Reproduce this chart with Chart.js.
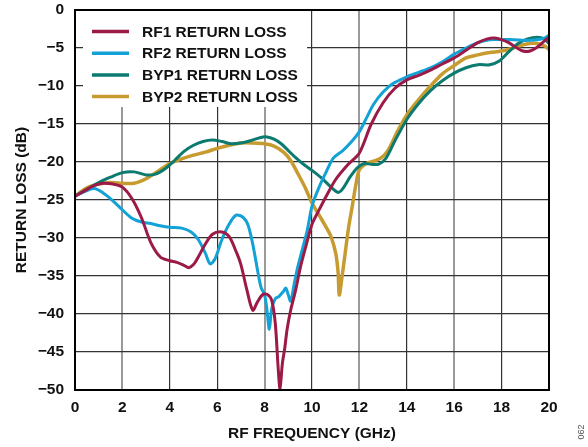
<!DOCTYPE html>
<html>
<head>
<meta charset="utf-8">
<script src="https://cdn.jsdelivr.net/npm/chart.js@4"></script>
<style>
  html, body { margin: 0; padding: 0; background: #fff; }
  canvas { display: block; }
</style>
</head>
<body>
<canvas id="rlChart" width="588" height="447"></canvas>
<script>
// frequencies (GHz) and return loss (dB)
const rf1Freq = [0, 0.4, 0.8, 1.2, 1.6, 2.0, 2.4, 2.8, 3.2, 3.6, 4.0, 4.3, 4.6, 4.8, 5.0, 5.2, 5.5, 5.8, 6.2, 6.5, 6.8, 7.0, 7.25, 7.5, 7.7, 7.9, 8.1, 8.3, 8.45, 8.57, 8.65, 8.75, 8.85, 8.95, 9.1, 9.3, 9.5, 9.75, 10.0, 10.3, 10.6, 11.0, 11.5, 12.0, 12.5, 13.0, 13.5, 14.0, 14.5, 15.0, 15.5, 16.0, 16.5, 17.0, 17.4, 17.7, 18.0, 18.3, 18.6, 18.9, 19.2, 19.5, 19.8, 20.0];
const rf1Loss = [-24.5, -23.8, -23.1, -22.8, -22.9, -23.3, -24.8, -27.3, -30.6, -32.5, -33.0, -33.2, -33.6, -33.9, -33.5, -32.5, -30.8, -29.5, -29.2, -29.8, -31.8, -33.5, -36.8, -39.5, -38.4, -37.5, -37.4, -38.2, -41.2, -47.0, -49.8, -46.5, -44.5, -42.0, -39.5, -37.0, -34.0, -31.0, -28.2, -26.3, -24.5, -22.3, -20.4, -18.8, -15.0, -12.2, -10.3, -9.2, -8.6, -7.9, -7.1, -6.3, -5.3, -4.3, -3.8, -3.7, -3.9, -4.3, -4.9, -5.4, -5.4, -4.9, -4.1, -3.6];

const rf2Freq = [0, 0.4, 0.8, 1.2, 1.6, 2.0, 2.4, 2.8, 3.2, 3.6, 4.0, 4.5, 4.9, 5.2, 5.5, 5.7, 5.9, 6.2, 6.5, 6.8, 7.1, 7.3, 7.5, 7.7, 7.85, 8.0, 8.1, 8.2, 8.3, 8.45, 8.6, 8.8, 8.9, 9.0, 9.1, 9.25, 9.4, 9.6, 9.8, 10.0, 10.3, 10.6, 10.9, 11.3, 11.7, 12.0, 12.3, 12.6, 13.0, 13.4, 14.0, 14.5, 15.0, 15.5, 16.0, 16.5, 17.0, 17.5, 18.0, 18.5, 19.0, 19.5, 19.8, 20.0];
const rf2Loss = [-24.5, -23.9, -23.5, -24.1, -25.1, -26.3, -27.4, -27.9, -28.1, -28.4, -28.6, -28.7, -29.2, -30.2, -32.0, -33.4, -32.8, -30.2, -28.2, -27.0, -27.3, -28.3, -30.8, -34.2, -36.5, -37.5, -39.5, -42.0, -39.3, -38.0, -37.7, -37.0, -36.6, -37.5, -38.3, -36.0, -33.8, -31.4, -29.0, -25.8, -23.3, -21.3, -19.5, -18.5, -17.2, -16.0, -14.2, -12.4, -10.8, -9.7, -8.8, -8.2, -7.6, -6.8, -5.8, -5.0, -4.3, -3.9, -3.9, -3.9, -4.0, -3.9, -3.7, -3.3];

const byp1Freq = [0, 0.5, 1.0, 1.5, 2.0, 2.5, 3.0, 3.4, 3.8, 4.2, 4.6, 5.0, 5.4, 5.8, 6.2, 6.6, 7.0, 7.4, 7.8, 8.1, 8.4, 8.7, 9.0, 9.3, 9.6, 10.0, 10.4, 10.8, 11.1, 11.3, 11.6, 11.9, 12.2, 12.5, 12.8, 13.1, 13.5, 14.0, 14.5, 15.0, 15.5, 16.0, 16.5, 17.0, 17.5, 17.9, 18.3, 18.7, 19.1, 19.5, 19.8, 20.0];
const byp1Loss = [-24.5, -23.6, -22.7, -22.0, -21.4, -21.3, -21.7, -21.6, -20.9, -19.8, -18.6, -17.8, -17.3, -17.1, -17.3, -17.6, -17.5, -17.2, -16.8, -16.7, -17.0, -17.6, -18.5, -19.4, -20.2, -21.1, -22.1, -23.3, -24.0, -23.5, -22.0, -20.8, -20.2, -20.3, -20.3, -19.6, -17.2, -14.4, -12.3, -10.6, -9.3, -8.3, -7.6, -7.2, -7.2, -6.7, -5.5, -4.4, -3.8, -3.6, -3.8, -4.4];

const byp2Freq = [0, 0.5, 1.0, 1.5, 2.0, 2.5, 3.0, 3.5, 4.0, 4.5, 5.0, 5.5, 6.0, 6.5, 7.0, 7.5, 8.0, 8.4, 8.8, 9.1, 9.4, 9.7, 10.0, 10.3, 10.6, 10.8, 11.0, 11.1, 11.15, 11.25, 11.4, 11.55, 11.7, 11.85, 12.0, 12.3, 12.6, 12.9, 13.2, 13.6, 14.0, 14.5, 15.0, 15.5, 16.0, 16.5, 17.0, 17.5, 18.0, 18.5, 19.0, 19.5, 19.8, 20.0];
const byp2Loss = [-24.5, -23.4, -22.9, -22.7, -22.8, -22.8, -22.2, -21.2, -20.2, -19.6, -19.1, -18.7, -18.2, -17.8, -17.5, -17.5, -17.6, -17.9, -18.7, -19.8, -21.5, -23.3, -25.4, -27.0, -28.6, -29.8, -32.0, -34.5, -37.5, -35.5, -32.0, -28.5, -25.8, -23.0, -21.0, -20.2, -19.9, -19.5, -18.5, -16.0, -13.8, -11.8, -10.0, -8.4, -7.3, -6.3, -5.9, -5.6, -5.4, -5.0, -4.5, -4.4, -4.7, -5.2];

const seriesNames = ['RF1 RETURN LOSS', 'RF2 RETURN LOSS', 'BYP1 RETURN LOSS', 'BYP2 RETURN LOSS'];
const seriesColors = ['#9c1a47', '#12a2d6', '#0b7a6f', '#c79b30'];

const FONT = "'Liberation Sans', Arial, sans-serif";

function pts(xs, ys) {
    return xs.map((x, i) => ({ x: x, y: ys[i] }));
}

// white box behind the legend, then legend lines + labels, frame and tag
const legendPlugin = {
    id: 'insideLegend',
    beforeDatasetsDraw(chart) {
        const ctx = chart.ctx;
        const a = chart.chartArea;
        ctx.save();
        ctx.fillStyle = '#fff';
        ctx.fillRect(a.left + 8, a.top + 1, 224, 96);
        ctx.restore();
    },
    afterDraw(chart) {
        const ctx = chart.ctx;
        const a = chart.chartArea;
        ctx.save();
        chart.data.datasets.forEach((ds, i) => {
            const y = a.top + 21.5 + i * 21.7;
            ctx.strokeStyle = ds.borderColor;
            ctx.lineWidth = 3.5;
            ctx.beginPath();
            ctx.moveTo(a.left + 17, y);
            ctx.lineTo(a.left + 54, y);
            ctx.stroke();
            ctx.fillStyle = '#111';
            ctx.font = 'bold 15.5px ' + FONT;
            ctx.textBaseline = 'middle';
            ctx.fillText(ds.label, a.left + 67, y + 1);
        });
        ctx.strokeStyle = '#000';
        ctx.lineWidth = 2;
        ctx.strokeRect(a.left, a.top, a.right - a.left, a.bottom - a.top);

        ctx.translate(582, 432);
        ctx.rotate(-Math.PI / 2);
        ctx.fillStyle = '#555';
        ctx.font = '9px ' + FONT;
        ctx.textAlign = 'center';
        ctx.textBaseline = 'middle';
        ctx.fillText('062', 0, 0);
        ctx.restore();
    }
};

const ctx = document.getElementById('rlChart').getContext('2d');
const rlChart = new Chart(ctx, {
    type: 'scatter',
    data: {
        datasets: [
            { label: seriesNames[0], data: pts(rf1Freq, rf1Loss), borderColor: seriesColors[0], borderWidth: 3 },
            { label: seriesNames[1], data: pts(rf2Freq, rf2Loss), borderColor: seriesColors[1], borderWidth: 3 },
            { label: seriesNames[2], data: pts(byp1Freq, byp1Loss), borderColor: seriesColors[2], borderWidth: 3 },
            { label: seriesNames[3], data: pts(byp2Freq, byp2Loss), borderColor: seriesColors[3], borderWidth: 3.5 }
        ].map(d => Object.assign(d, { showLine: true, pointRadius: 0, tension: 0.3, fill: false }))
    },
    options: {
        responsive: false,
        devicePixelRatio: 1,
        animation: false,
        layout: { padding: { left: 0, top: 10, right: 39, bottom: 0 } },
        plugins: {
            legend: { display: false },
            tooltip: { enabled: false }
        },
        scales: {
            x: {
                type: 'linear',
                min: 0,
                max: 20,
                afterFit: s => { s.height = 57; s.paddingLeft = 0; s.paddingRight = 0; },
                border: { display: false },
                grid: {
                    drawTicks: false,
                    color: c => [2, 8, 12, 16].includes(c.tick && c.tick.value) ? '#9a9a9a' : '#333',
                    lineWidth: c => [2, 8, 12, 16].includes(c.tick && c.tick.value) ? 2 : 1.2
                },
                ticks: {
                    stepSize: 2,
                    padding: 8,
                    color: '#111',
                    font: { family: FONT, size: 15.5, weight: 'bold' }
                },
                title: {
                    display: true,
                    text: 'RF FREQUENCY (GHz)',
                    color: '#111',
                    padding: { top: 0, bottom: 4 },
                    font: { family: FONT, size: 15.5, weight: 'bold' }
                }
            },
            y: {
                min: -50,
                max: 0,
                afterFit: s => { s.width = 75; s.paddingTop = 0; s.paddingBottom = 0; },
                border: { display: false },
                grid: { drawTicks: false, color: '#333', lineWidth: 1.2 },
                ticks: {
                    stepSize: 5,
                    padding: 11,
                    color: '#111',
                    font: { family: FONT, size: 15.5, weight: 'bold' },
                    callback: v => v < 0 ? '\u2212' + Math.abs(v) : String(v)
                },
                title: {
                    display: true,
                    text: 'RETURN LOSS (dB)',
                    color: '#111',
                    padding: { top: 12, bottom: 0 },
                    font: { family: FONT, size: 15.5, weight: 'bold' }
                }
            }
        }
    },
    plugins: [legendPlugin]
});
</script>
</body>
</html>
